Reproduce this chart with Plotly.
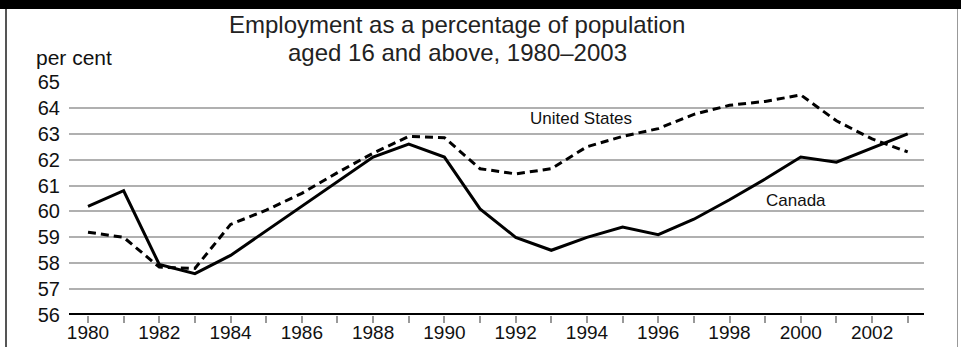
import plotly.graph_objects as go

years = list(range(1980, 2004))
canada = [60.2, 60.8, 57.95, 57.6, 58.3, 59.25, 60.2, 61.15, 62.1, 62.6, 62.1, 60.1,
          59.0, 58.5, 59.0, 59.4, 59.1, 59.7, 60.45, 61.25, 62.1, 61.9, 62.45, 63.0]
united_states = [59.2, 59.0, 57.85, 57.8, 59.5, 60.05, 60.7, 61.5, 62.25, 62.9, 62.85, 61.65,
                 61.45, 61.65, 62.5, 62.9, 63.2, 63.75, 64.1, 64.25, 64.5, 63.5, 62.8, 62.3]
y_ticks = list(range(56, 66))
x_ticks = list(range(1980, 2004, 2))

title_lines = ["Employment as a percentage of population", "aged 16 and above, 1980\u20132003"]
y_unit = "per cent"

W, H = 961, 347
L, R, T, B = 69, 37, 82, 32
pw, ph = W - L - R, H - T - B

def px(x):
    return (x - L) / pw

def py(y):
    return (H - B - y) / ph

FONT = "Liberation Sans, Arial, Helvetica, sans-serif"

fig = go.Figure()
fig.add_trace(go.Scatter(x=years, y=united_states, mode="lines", name="United States",
                         line=dict(color="black", width=3, dash="8px,5px")))
fig.add_trace(go.Scatter(x=years, y=canada, mode="lines", name="Canada",
                         line=dict(color="black", width=3)))

shapes = [
    dict(type="rect", xref="paper", yref="paper", x0=px(0), x1=px(W), y0=py(0), y1=py(9),
         fillcolor="black", line=dict(width=0), layer="above"),
    dict(type="line", xref="paper", yref="paper", x0=px(6), x1=px(6), y0=py(9), y1=py(H),
         line=dict(color="#555555", width=2)),
    dict(type="line", xref="paper", yref="paper", x0=px(957.5), x1=px(957.5), y0=py(9), y1=py(H),
         line=dict(color="#999999", width=1)),
    dict(type="line", xref="paper", yref="y", x0=0, x1=1, y0=56, y1=56,
         line=dict(color="black", width=4), layer="above"),
]

annotations = [
    dict(text=title_lines[0], xref="paper", yref="paper", x=px(457), y=py(25), showarrow=False,
         xanchor="center", yanchor="middle", font=dict(size=24, color="#222222", family=FONT)),
    dict(text=title_lines[1], xref="paper", yref="paper", x=px(457), y=py(53), showarrow=False,
         xanchor="center", yanchor="middle", font=dict(size=24, color="#222222", family=FONT)),
    dict(text=y_unit, xref="paper", yref="paper", x=px(34), y=py(58), showarrow=False,
         xanchor="left", yanchor="middle", font=dict(size=21, color="#111111", family=FONT)),
    dict(text="United States", xref="x", yref="y", x=1993.84, y=63.6, showarrow=False,
         xanchor="center", yanchor="middle", font=dict(size=17, color="#111111", family=FONT)),
    dict(text="Canada", xref="x", yref="y", x=1999.87, y=60.44, showarrow=False,
         xanchor="center", yanchor="middle", font=dict(size=17, color="#111111", family=FONT)),
]

fig.update_layout(
    width=W, height=H, autosize=False,
    margin=dict(l=L, r=R, t=T, b=B, pad=0),
    paper_bgcolor="white", plot_bgcolor="white",
    showlegend=False,
    shapes=shapes,
    annotations=annotations,
    font=dict(family=FONT, color="#111111"),
    xaxis=dict(range=[1979.467, 2003.457], tickmode="array", tickvals=x_ticks,
               ticktext=[str(v) for v in x_ticks],
               ticks="outside", ticklen=7, tickwidth=1.5, tickcolor="#999999",
               minor=dict(tickmode="array", tickvals=years, ticks="outside", ticklen=7,
                          tickwidth=1.5, tickcolor="#999999", showgrid=False),
               showgrid=False, zeroline=False, showline=False, automargin=False,
               ticklabelstandoff=-7,
               tickfont=dict(size=19, color="#111111", family=FONT), fixedrange=True),
    yaxis=dict(range=[56, 65], tickmode="array", tickvals=y_ticks,
               ticktext=[str(v) for v in y_ticks],
               ticks="", showgrid=True, gridcolor="#b0b0b0", gridwidth=1.5,
               zeroline=False, showline=False, ticklabelstandoff=8, automargin=False,
               tickfont=dict(size=20, color="#111111", family=FONT), fixedrange=True),
)

post = (
    "document.body.style.margin='0';document.body.style.padding='0';"
    "document.body.style.overflow='hidden';"
    "var gd=document.getElementById('{plot_id}');"
    "Plotly.relayout(gd,{width:%d,height:%d,autosize:false});" % (W, H)
)

fig.write_html("out.html", config={"responsive": False, "displayModeBar": False},
               post_script=post)
